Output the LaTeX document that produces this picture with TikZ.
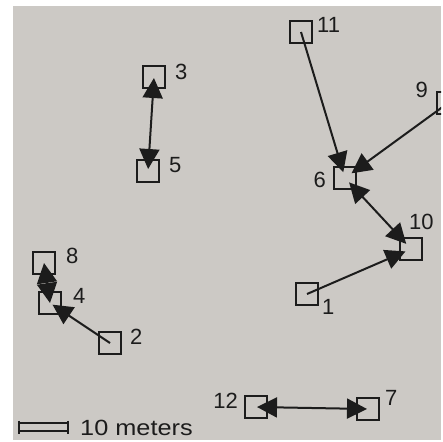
\documentclass[tikz,border=0pt]{standalone}
\usepackage{fontspec}
\setmainfont{Liberation Sans}
\usetikzlibrary{arrows.meta}
\definecolor{paper}{RGB}{204,201,197}
\definecolor{ink}{RGB}{28,28,28}
\tikzset{
  site/.style={shape=rectangle,draw=ink,line width=2pt,minimum size=22pt,inner sep=0pt},
  move/.style={draw=ink,line width=2pt,-{Triangle[length=20pt,width=20pt]}},
  swap/.style={draw=ink,line width=2pt,{Triangle[length=20pt,width=20pt]}-{Triangle[length=20pt,width=20pt]}},
  every label/.style={text=ink,inner sep=1pt,font=\fontsize{22}{22}\selectfont}
}

\begin{document}
\begin{tikzpicture}[x=1pt,y=-1pt]
  \useasboundingbox (0,0) rectangle (443,441);
  \fill[white] (0,0) rectangle (443,441);
  \fill[paper] (13,6) rectangle (441,440);
  \begin{scope}
    \clip (13,6) rectangle (441,440);
    % sites
    \node[site,label={[xshift=3pt,yshift=7pt]right:11}] (n11) at (301,32) {};
    \node[site,label={[xshift=8pt,yshift=5pt]right:3}] (n3) at (154,77) {};
    \node[site,label={[xshift=8pt,yshift=6pt]right:5}] (n5) at (148,171) {};
    \node[site,label={[xshift=-7pt,yshift=13pt]left:9}] (n9) at (448,103) {};
    \node[site,label={[xshift=-6pt,yshift=-2pt]left:6}] (n6) at (345,178) {};
    \node[site,label={[xshift=-15pt,yshift=6pt]above right:10}] (n10) at (411,249) {};
    \node[site,label={[xshift=2pt,yshift=8pt]below right:1}] (n1) at (307,294) {};
    \node[site,label={[xshift=9pt,yshift=7pt]right:8}] (n8) at (44,263) {};
    \node[site,label={[xshift=10pt,yshift=7pt]right:4}] (n4) at (50,303) {};
    \node[site,label={[xshift=7pt,yshift=6pt]right:2}] (n2) at (110,343) {};
    \node[site,label={[xshift=-5pt,yshift=6pt]left:12}] (n12) at (256,407) {};
    \node[site,label={[xshift=4pt,yshift=11pt]right:7}] (n7) at (368,409) {};
    % moves
    \draw[move,shorten >=6pt] (n11.center) -- (n6.center);
    \draw[move,shorten >=8pt] (n9.center) -- (n6.center);
    \draw[swap,shorten <=6pt,shorten >=7pt] (n6.center) -- (n10.center);
    \draw[move,shorten >=6pt] (n1.center) -- (n10.center);
    \draw[swap,shorten <=1pt,shorten >=2pt] (n3.center) -- (n5.center);
    \draw[swap] (n8.center) -- (n4.center);
    \draw[move,shorten >=3pt] (n2.center) -- (n4.center);
    \draw[swap,shorten <=1pt,shorten >=1pt] (n12.center) -- (n7.center);
  \end{scope}
  % scale bar
  \coordinate (s0) at (19,427);
  \coordinate (s1) at (68,427);
  \draw[ink,line width=1.6pt] ([yshift=4pt]s0) -- ([yshift=4pt]s1)
    ([yshift=-4pt]s0) -- ([yshift=-4pt]s1);
  \draw[ink,line width=1.8pt] ([yshift=6.5pt]s0) -- ([yshift=-6.5pt]s0)
    ([yshift=6.5pt]s1) -- ([yshift=-6.5pt]s1);
  \node[anchor=west,text=ink,inner sep=0pt,xscale=1.15,transform shape,
    font=\fontsize{22}{22}\selectfont] (scale) at (80,428) {10 meters};
\end{tikzpicture}
\end{document}
